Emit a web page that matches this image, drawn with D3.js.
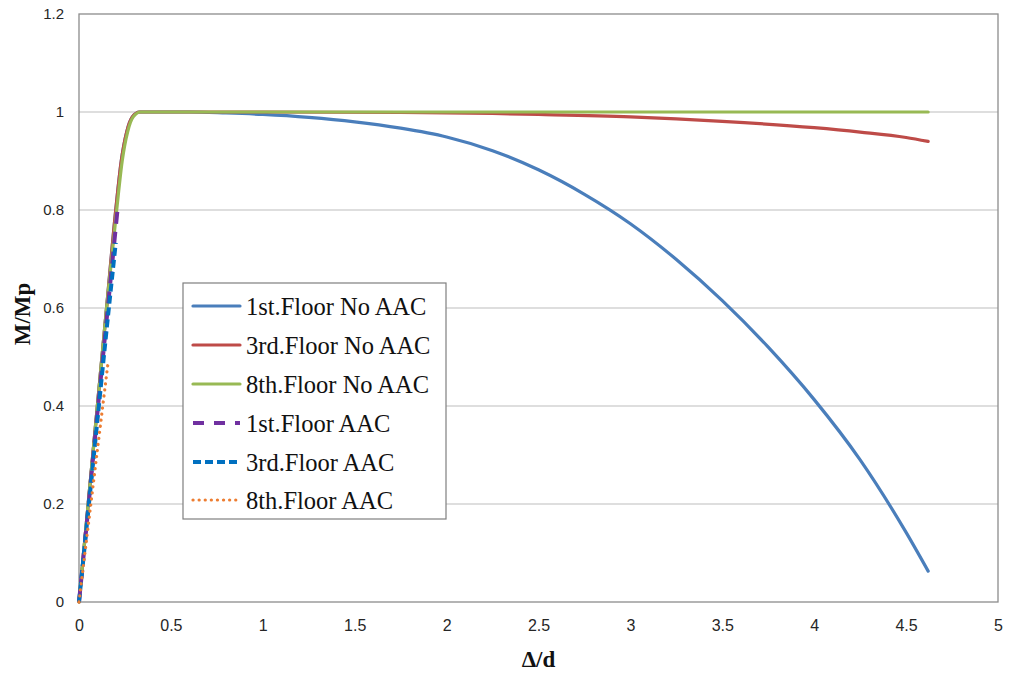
<!DOCTYPE html>
<html>
<head>
<meta charset="utf-8">
<script src="https://cdn.jsdelivr.net/npm/d3@7"></script>
<style>
  html, body { margin: 0; padding: 0; background: #fff; }
  svg { display: block; }
</style>
</head>
<body>
<svg id="chart" width="1010" height="674"></svg>
<script>
// ---- data ----
const xTicks = [0, 0.5, 1, 1.5, 2, 2.5, 3, 3.5, 4, 4.5, 5];
const xTickLabels = ["0", "0.5", "1", "1.5", "2", "2.5", "3", "3.5", "4", "4.5", "5"];
const yTicks = [0, 0.2, 0.4, 0.6, 0.8, 1, 1.2];
const yTickLabels = ["0", "0.2", "0.4", "0.6", "0.8", "1", "1.2"];

const seriesNames = ["1st.Floor No AAC", "3rd.Floor No AAC", "8th.Floor No AAC",
                     "1st.Floor AAC", "3rd.Floor AAC", "8th.Floor AAC"];

const x1stNo = [0, 0.05, 0.1, 0.15, 0.2, 0.23, 0.26, 0.29, 0.33, 0.6, 0.8, 1.0, 1.25, 1.5, 1.75, 2.0, 2.25, 2.5, 2.75, 3.0, 3.25, 3.5, 3.75, 4.0, 4.25, 4.5, 4.62];
const y1stNo = [0, 0.2, 0.4, 0.6, 0.8, 0.9, 0.96, 0.99, 1.0, 1.0, 0.998, 0.995, 0.989, 0.98, 0.967, 0.949, 0.921, 0.882, 0.832, 0.772, 0.699, 0.615, 0.52, 0.413, 0.29, 0.142, 0.063];

const x3rdNo = [0, 0.05, 0.1, 0.15, 0.2, 0.23, 0.26, 0.29, 0.33, 1.0, 1.75, 2.25, 2.5, 3.0, 3.5, 4.0, 4.25, 4.5, 4.62];
const y3rdNo = [0, 0.2, 0.4, 0.6, 0.8, 0.9, 0.96, 0.99, 1.0, 1.0, 0.999, 0.997, 0.995, 0.99, 0.981, 0.968, 0.959, 0.948, 0.94];

const x8thNo = [0, 0.05, 0.1, 0.15, 0.205, 0.235, 0.265, 0.295, 0.335, 1.0, 2.0, 3.0, 4.0, 4.62];
const y8thNo = [0, 0.2, 0.4, 0.6, 0.8, 0.9, 0.96, 0.99, 1.0, 1.0, 1.0, 1.0, 1.0, 1.0];

const x1stAAC = [0, 0.05, 0.1, 0.15, 0.212];
const y1stAAC = [0, 0.19, 0.385, 0.575, 0.81];

const x3rdAAC = [0, 0.05, 0.1, 0.15, 0.2];
const y3rdAAC = [0, 0.185, 0.37, 0.555, 0.733];

const x8thAAC = [0, 0.05, 0.1, 0.158];
const y8thAAC = [0, 0.155, 0.31, 0.488];

// ---- layout ----
const svg = d3.select("#chart");
const L = 79, T = 14, R = 998, B = 602;
const x = d3.scaleLinear().domain([0, 5]).range([L, R]);
const y = d3.scaleLinear().domain([0, 1.2]).range([B, T]);

// gridlines
svg.append("g")
  .selectAll("line").data(yTicks.filter(d => d > 0 && d < 1.2)).join("line")
  .attr("x1", L).attr("x2", R)
  .attr("y1", d => y(d)).attr("y2", d => y(d))
  .attr("stroke", "#bdbdbd").attr("stroke-width", 1.2);

// plot border
svg.append("rect")
  .attr("x", L).attr("y", T).attr("width", R - L).attr("height", B - T)
  .attr("fill", "none").attr("stroke", "#8c8c8c").attr("stroke-width", 1.3);

// axes (labels only)
const yAxis = d3.axisLeft(y).tickValues(yTicks)
  .tickFormat((d, i) => yTickLabels[i]).tickSize(0).tickPadding(15);
const gy = svg.append("g").attr("transform", `translate(${L},0)`).call(yAxis);
gy.select(".domain").remove();
gy.selectAll("text").attr("font-family", "'Liberation Sans', Arial, sans-serif")
  .attr("font-size", 15).attr("fill", "#262626");

const xAxis = d3.axisBottom(x).tickValues(xTicks)
  .tickFormat((d, i) => xTickLabels[i]).tickSize(0).tickPadding(18);
const gx = svg.append("g").attr("transform", `translate(0,${B})`).call(xAxis);
gx.select(".domain").remove();
gx.selectAll("text").attr("font-family", "'Liberation Sans Narrow', 'Liberation Sans', sans-serif")
  .attr("font-size", 16).attr("fill", "#262626");

// axis titles
svg.append("text")
  .attr("transform", `translate(30,${(T + B) / 2 + 6}) rotate(-90)`)
  .attr("text-anchor", "middle")
  .attr("font-family", "'Liberation Serif', 'Times New Roman', serif")
  .attr("font-weight", "bold").attr("font-size", 23).attr("fill", "#111")
  .text("M/Mp");

svg.append("text")
  .attr("x", x(2.5)).attr("y", 667)
  .attr("text-anchor", "middle")
  .attr("font-family", "'Liberation Serif', 'Times New Roman', serif")
  .attr("font-weight", "bold").attr("font-size", 23).attr("fill", "#111")
  .text("Δ/d");

// series
const styles = [
  { color: "#4a7ebb", width: 3.2, dash: null, cap: "round" },
  { color: "#be4b48", width: 3.2, dash: null, cap: "round" },
  { color: "#98b954", width: 3.2, dash: null, cap: "round" },
  { color: "#7030a0", width: 4, dash: "12,8", cap: "butt" },
  { color: "#0070c0", width: 4, dash: "8,4", cap: "butt" },
  { color: "#ed7d31", width: 3.2, dash: "0.1,6", cap: "round" }
];
const seriesData = [
  [x1stNo, y1stNo], [x3rdNo, y3rdNo], [x8thNo, y8thNo],
  [x1stAAC, y1stAAC], [x3rdAAC, y3rdAAC], [x8thAAC, y8thAAC]
];

const line = d3.line().x(d => x(d[0])).y(d => y(d[1])).curve(d3.curveMonotoneX);

const gLines = svg.append("g");
seriesData.forEach(([xs, ys], i) => {
  const pts = xs.map((v, k) => [v, ys[k]]);
  const s = styles[i];
  gLines.append("path")
    .attr("d", line(pts))
    .attr("fill", "none")
    .attr("stroke", s.color)
    .attr("stroke-width", s.width)
    .attr("stroke-linecap", s.cap)
    .attr("stroke-linejoin", "round")
    .attr("stroke-dasharray", s.dash);
});

// legend
const lg = svg.append("g");
lg.append("rect")
  .attr("x", 183).attr("y", 283).attr("width", 263).attr("height", 236)
  .attr("fill", "#fff").attr("stroke", "#7f7f7f").attr("stroke-width", 1.2);
const rowY = [307, 346, 385, 424, 463, 501];
seriesNames.forEach((name, i) => {
  const s = styles[i];
  lg.append("line")
    .attr("x1", 193).attr("x2", 240)
    .attr("y1", rowY[i] - 1).attr("y2", rowY[i] - 1)
    .attr("stroke", s.color)
    .attr("stroke-width", s.width)
    .attr("stroke-linecap", s.cap)
    .attr("stroke-dasharray", i === 3 ? "11,10" : s.dash);
  lg.append("text")
    .attr("x", 246).attr("y", rowY[i] + 8)
    .attr("font-family", "'Liberation Serif', 'Times New Roman', serif")
    .attr("font-size", 24.5).attr("fill", "#111")
    .text(name);
});
</script>
</body>
</html>
